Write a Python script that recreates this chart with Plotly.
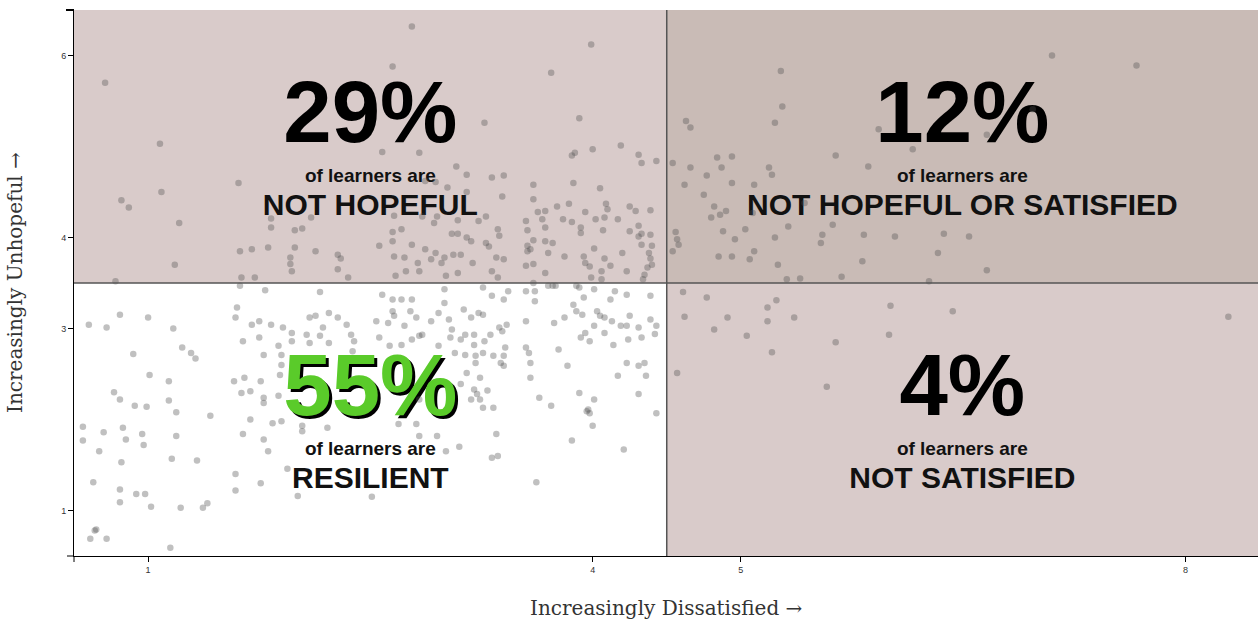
import plotly.graph_objects as go

# ---- data: (dissatisfaction, unhopefulness) per learner ----
dissatisfied = [
    0.71, 1.08, 1.09, 0.82, 0.87, 1.21, 1.18, 0.78,
    2.78, 2.65, 3.72, 3.99, 3.27, 3.91,
    1.61, 2.58, 2.83, 2.87, 2.94, 1.83, 1.83, 2.10, 1.99, 2.04, 2.66, 2.65, 2.71, 2.85, 2.93, 2.95,
    1.62, 1.70, 1.81, 1.99, 1.96, 1.96, 1.97, 2.13, 2.28, 2.30, 2.28, 2.35, 2.56, 2.65, 2.66, 2.73,
    2.78, 2.87, 2.94, 2.82, 2.91, 2.98, 2.83, 2.74, 2.67, 1.63, 1.72,
    4.19, 4.00, 3.88, 3.86, 4.31, 4.33, 4.43, 3.08, 3.15, 3.32, 3.40, 3.02, 3.15, 3.60, 3.87, 4.05,
    3.39, 3.60, 3.84, 4.09, 4.10, 4.25, 4.29, 4.39, 3.76, 3.63, 3.68, 3.95, 3.28, 3.23, 3.09, 3.55,
    3.80, 3.86, 4.02, 4.08, 4.17, 3.66, 4.31, 3.68, 3.56, 3.36, 3.37, 3.92, 3.92, 4.07, 4.25, 4.33,
    4.39, 4.31, 3.05, 3.09, 3.15, 3.18, 3.28, 3.30, 3.60, 3.56, 3.58, 3.56, 3.68, 3.73, 3.70, 3.81,
    4.01, 4.20, 4.33, 4.40, 4.38, 4.39, 4.40, 4.37, 3.94, 3.95, 3.98, 4.08, 4.12, 4.06, 3.55, 3.60,
    3.35, 3.40, 3.19, 3.00, 3.06, 3.11, 3.09, 3.01, 3.32, 3.36, 3.68, 3.99, 4.06, 4.23, 4.35, 4.34,
    3.60, 3.73, 3.89,
    0.60, 0.72, 0.81, 1.00, 1.17, 0.90, 1.23, 1.29, 1.32, 1.01, 1.14, 1.14, 1.19, 0.77, 0.81, 0.91,
    0.99, 1.42, 0.56, 0.56, 0.70, 0.83, 0.85, 0.96, 0.97, 1.19, 0.67, 1.16, 1.33, 0.82, 0.63, 0.81,
    0.81, 0.92, 0.98, 1.02, 1.22, 1.37, 1.40, 0.64, 0.65, 0.61, 0.72, 1.15,
    1.59, 1.59, 1.76, 1.94, 2.01,
    1.62, 1.79, 2.16, 2.58, 2.65, 2.71, 2.78, 1.60, 1.59, 1.70, 1.75, 1.83, 1.91, 1.97, 2.09, 2.13,
    2.22, 2.28, 2.07, 2.16, 2.18, 2.34, 2.37, 2.39, 2.54, 2.62, 2.65, 2.66, 2.73, 2.81, 2.77, 2.85,
    2.91, 2.96, 1.64, 1.75, 1.88, 1.97, 2.09, 2.22, 2.38, 2.56, 2.63, 2.71, 2.78, 2.83, 2.96, 1.90,
    1.90, 1.89, 1.78, 1.58, 1.65, 1.76, 1.63, 1.69, 1.78, 1.78, 1.88, 1.69, 1.84, 1.90, 2.04, 2.21,
    1.64, 1.78, 1.81, 2.04, 2.69, 2.81, 2.83, 2.95, 2.83,
    3.00, 3.00, 3.26, 3.32, 3.40, 3.43, 3.55, 3.61, 3.61, 3.70, 3.75, 3.91, 4.01, 3.94, 4.12, 4.15,
    4.23, 4.39, 3.87, 3.89, 3.93, 4.03, 4.05, 4.08, 4.13, 4.25, 4.39, 4.43, 4.19, 4.23, 4.31, 3.03,
    3.13, 3.18, 3.23, 3.26, 3.31, 3.37, 3.42, 3.39, 3.05, 3.04, 3.11, 3.14, 3.20, 3.20, 3.27, 3.55,
    3.55, 3.57, 3.74, 3.81, 3.95, 4.01, 3.98, 3.92, 4.08, 4.14, 4.24, 4.33, 4.42, 3.07, 3.14, 3.21,
    3.26, 3.33, 3.40, 3.41, 3.38, 3.40, 3.21, 3.15, 3.24, 3.11, 3.58, 3.58, 3.77, 3.83, 4.23, 4.31,
    4.35, 4.17, 4.36, 3.20, 3.22, 3.24, 3.29, 3.26, 3.18, 3.33, 3.64, 3.72, 3.91, 4.01, 3.97, 3.98,
    3.96, 4.31, 4.43, 3.35, 4.00, 3.86, 4.21, 3.10, 3.01, 3.36, 3.32, 2.51, 3.62,
    5.27, 5.28, 5.23, 4.63, 4.66, 5.93, 5.64, 5.86, 6.16, 4.54, 4.66, 4.84, 4.94, 4.87, 4.77, 4.62,
    4.94, 5.09, 5.19, 5.21, 4.75, 4.82, 4.86, 4.80, 4.90, 5.43, 5.08, 5.62, 5.32, 4.88, 5.03, 4.56,
    4.57, 4.58, 4.54, 4.96, 5.23, 5.55, 5.54, 5.83, 6.04, 6.37, 6.54, 6.33, 5.09, 5.06, 4.85, 4.94,
    5.25, 5.82, 5.31, 5.40, 5.68, 6.27,
    4.61, 4.77, 4.62, 4.91, 5.18, 5.24, 5.18, 4.82, 5.04, 5.36, 5.64, 5.21, 6.01, 6.00, 6.43, 4.57, 5.58,
    7.10, 7.67, 6.97, 6.66, 6.66, 8.29,
]
unhopeful = [
    5.70, 5.03, 4.50, 4.41, 4.33, 4.16, 3.70, 3.52,
    6.32, 5.88, 5.81, 6.12, 5.26, 5.31,
    4.60, 4.94, 4.93, 4.62, 4.61, 4.21, 4.11, 4.22, 4.08, 4.10, 4.24, 4.06, 4.09, 4.23, 4.16, 4.23,
    3.85, 3.87, 3.89, 3.89, 3.78, 3.71, 3.63, 3.85, 3.81, 3.77, 3.65, 3.56, 3.91, 3.96, 3.79, 3.78,
    3.92, 3.87, 3.83, 3.72, 3.76, 3.72, 3.63, 3.63, 3.58, 3.56, 3.56,
    5.01, 4.97, 4.93, 4.90, 4.91, 4.82, 4.84, 4.78, 4.69, 4.66, 4.68, 4.55, 4.50, 4.58, 4.60, 4.54,
    4.45, 4.42, 4.37, 4.37, 4.31, 4.34, 4.29, 4.30, 4.34, 4.28, 4.29, 4.28, 4.23, 4.18, 4.19, 4.18,
    4.20, 4.17, 4.20, 4.22, 4.20, 4.20, 4.13, 4.11, 4.08, 4.09, 4.02, 4.11, 4.05, 4.08, 4.07, 4.04,
    4.03, 4.01, 4.04, 4.04, 4.00, 3.96, 3.94, 3.90, 3.97, 3.91, 3.87, 3.85, 3.96, 3.94, 3.83, 3.79,
    3.88, 3.83, 3.92, 3.91, 3.83, 3.77, 3.70, 3.67, 3.79, 3.72, 3.68, 3.77, 3.69, 3.63, 3.69, 3.71,
    3.78, 3.76, 3.72, 3.78, 3.81, 3.81, 3.61, 3.58, 3.63, 3.56, 3.61, 3.56, 3.54, 3.63, 3.59, 3.54,
    3.50, 3.47, 3.47,
    3.04, 3.01, 3.15, 3.12, 3.00, 2.72, 2.79, 2.73, 2.67, 2.49, 2.42, 2.21, 2.08, 2.30, 2.22, 2.15,
    2.14, 2.04, 1.92, 1.77, 1.86, 1.91, 1.78, 1.84, 1.72, 1.82, 1.65, 1.57, 1.55, 1.53, 1.31, 1.23,
    1.09, 1.18, 1.18, 1.04, 1.03, 1.03, 1.08, 0.78, 0.79, 0.69, 0.69, 0.59,
    1.40, 1.22, 1.30, 1.46, 1.16,
    3.47, 3.42, 3.40, 3.37, 3.32, 3.32, 3.32, 3.23, 3.12, 3.04, 3.08, 3.04, 3.01, 2.95, 3.12, 3.14,
    3.17, 3.12, 2.93, 2.92, 3.01, 3.04, 2.93, 2.86, 3.08, 3.06, 3.19, 3.14, 3.03, 3.12, 3.19, 2.93,
    3.08, 3.17, 2.86, 2.90, 2.81, 2.86, 2.84, 2.84, 2.75, 2.90, 2.81, 2.82, 2.88, 2.92, 2.81, 2.71,
    2.60, 2.49, 2.71, 2.42, 2.46, 2.42, 2.29, 2.31, 2.24, 2.18, 2.26, 2.00, 1.96, 1.98, 1.93, 1.91,
    1.84, 1.78, 1.65, 1.87, 1.95, 1.95, 1.82, 1.82, 2.22,
    3.43, 3.28, 3.45, 3.36, 3.32, 3.41, 3.41, 3.41, 3.30, 3.47, 3.47, 3.45, 3.43, 3.34, 3.32, 3.41,
    3.37, 3.36, 3.26, 3.19, 3.15, 3.19, 3.14, 3.12, 3.08, 3.14, 3.10, 3.03, 3.03, 3.03, 3.01, 3.10,
    3.21, 3.12, 3.17, 3.15, 2.93, 3.01, 3.04, 2.97, 2.99, 2.90, 2.88, 2.93, 2.93, 2.82, 2.86, 3.08,
    2.79, 2.73, 3.06, 3.12, 2.95, 3.03, 2.86, 2.90, 2.95, 2.82, 2.88, 2.90, 2.94, 2.73, 2.71, 2.70,
    2.73, 2.70, 2.70, 2.79, 2.62, 2.59, 2.62, 2.51, 2.46, 2.39, 2.62, 2.46, 2.77, 2.59, 2.62, 2.59,
    2.62, 2.48, 2.48, 2.33, 2.28, 2.22, 2.32, 2.13, 2.22, 2.13, 2.24, 2.15, 2.29, 2.22, 2.11, 2.07,
    2.09, 2.28, 2.07, 1.84, 1.93, 1.77, 1.67, 1.70, 1.65, 1.60, 1.58, 1.15, 1.31,
    5.83, 5.44, 5.26, 5.28, 5.21, 5.19, 4.90, 4.78, 4.97, 4.82, 4.77, 4.88, 4.89, 4.77, 4.68, 4.58,
    4.60, 4.58, 4.77, 4.69, 4.47, 4.34, 4.25, 4.22, 4.29, 4.38, 4.27, 4.14, 4.12, 4.07, 4.09, 4.06,
    3.98, 3.92, 3.85, 3.98, 4.00, 4.03, 3.94, 4.03, 4.01, 4.04, 4.01, 3.83, 3.85, 3.76, 3.79, 3.79,
    3.70, 3.74, 3.54, 3.55, 3.57, 3.52,
    3.40, 3.34, 3.13, 3.12, 3.23, 3.31, 3.08, 2.99, 2.92, 3.12, 2.85, 2.74, 3.25, 2.93, 3.19, 2.51, 2.36,
    6.00, 5.89, 5.41, 5.13, 3.64, 3.13,
]

# quadrant labels (order: upper-left, upper-right, lower-left, lower-right)
pct_labels = ["29%", "12%", "55%", "4%"]
quad_names = ["NOT HOPEFUL", "NOT HOPEFUL OR SATISFIED", "RESILIENT", "NOT SATISFIED"]
sub_label = "of learners are"

x_ticks = [1, 4, 5, 8]
y_ticks = [1, 3, 4, 6]
x_split, y_split = 4.5, 3.5
x_range = [0.5, 8.49]
y_range = [0.5, 6.5]

x_title = "Increasingly Dissatisfied →"
y_title = "Increasingly Unhopeful →"

# ---- layout helpers ----
xc = [(x_range[0] + x_split) / 2, (x_split + x_range[1]) / 2]
yc = [(y_split + y_range[1]) / 2, (y_range[0] + y_split) / 2]
qx = [xc[0], xc[1], xc[0], xc[1]]
qy = [yc[0], yc[0], yc[1], yc[1]]

SANS = "Liberation Sans, Arial, Helvetica, sans-serif"
GREEN = "#5acb2a"
PCT_OFF, SUB_OFF, NAME_OFF = 0.285, -0.335, -0.675

fig = go.Figure()

# big percentages (black ones)
fig.add_trace(go.Scatter(
    x=[qx[i] for i in (0, 1, 3)], y=[qy[i] + PCT_OFF for i in (0, 1, 3)],
    text=[pct_labels[i] for i in (0, 1, 3)], mode="text", hoverinfo="skip",
    textposition="middle center",
    textfont=dict(family=SANS, size=87, color="#000", weight="bold"),
    showlegend=False))
# green 55% with black drop shadow
fig.add_trace(go.Scatter(
    x=[qx[2]], y=[qy[2] + PCT_OFF], text=[pct_labels[2]], mode="text", hoverinfo="skip",
    textposition="middle center",
    textfont=dict(family=SANS, size=87, color=GREEN, weight="bold",
                  shadow="3px 3px 0px #000"),
    showlegend=False))
# "of learners are"
fig.add_trace(go.Scatter(
    x=qx, y=[v + SUB_OFF for v in qy], text=[sub_label] * 4, mode="text", hoverinfo="skip",
    textposition="middle center",
    textfont=dict(family=SANS, size=19, color="#111", weight="bold"),
    showlegend=False))
# quadrant names
fig.add_trace(go.Scatter(
    x=qx, y=[v + NAME_OFF for v in qy], text=quad_names, mode="text", hoverinfo="skip",
    textposition="middle center",
    textfont=dict(family=SANS, size=30, color="#111", weight="bold"),
    showlegend=False))

# learners
fig.add_trace(go.Scatter(
    x=dissatisfied, y=unhopeful, mode="markers",
    marker=dict(size=6.5, color="rgba(80,80,80,0.36)", line=dict(width=0)),
    showlegend=False, hoverinfo="x+y"))

# quadrant backgrounds
bg_ul = "#d9cbca"
bg_ur = "#c9bbb6"
bg_lr = "#d9cbca"
shapes = [
    dict(type="rect", xref="x", yref="y", x0=x_range[0], x1=x_split, y0=y_split, y1=y_range[1],
         fillcolor=bg_ul, line=dict(width=0), layer="below"),
    dict(type="rect", xref="x", yref="y", x0=x_split, x1=x_range[1], y0=y_split, y1=y_range[1],
         fillcolor=bg_ur, line=dict(width=0), layer="below"),
    dict(type="rect", xref="x", yref="y", x0=x_split, x1=x_range[1], y0=y_range[0], y1=y_split,
         fillcolor=bg_lr, line=dict(width=0), layer="below"),
    dict(type="line", xref="x", yref="y", x0=x_split, x1=x_split, y0=y_range[0], y1=y_range[1],
         line=dict(color="#555", width=1.5)),
    dict(type="line", xref="x", yref="y", x0=x_range[0], x1=x_range[1], y0=y_split, y1=y_split,
         line=dict(color="#555", width=1.5)),
    # outer ticks at axis ends (d3 style)
    dict(type="line", xref="paper", yref="paper", xsizemode="pixel", xanchor=0,
         x0=-8, x1=0, y0=1, y1=1, line=dict(color="#000", width=2)),
    dict(type="line", xref="paper", yref="paper", xsizemode="pixel", xanchor=0,
         x0=-7, x1=0, y0=0, y1=0, line=dict(color="#000", width=1)),
    dict(type="line", xref="paper", yref="paper", ysizemode="pixel", yanchor=0,
         x0=0, x1=0, y0=-6, y1=0, line=dict(color="#000", width=1)),
]

TICKFONT = dict(family="Liberation Sans Narrow, Arial Narrow, Liberation Sans", size=9, color="#333")

fig.update_layout(
    width=1258, height=622,
    margin=dict(l=74, r=0, t=10, b=66),
    paper_bgcolor="white", plot_bgcolor="white",
    shapes=shapes,
    xaxis=dict(range=x_range, tickvals=x_ticks, ticktext=[str(v) for v in x_ticks],
               showgrid=False, zeroline=False, showline=True, linecolor="#000", linewidth=1,
               ticks="outside", ticklen=5, tickcolor="#000", tickfont=TICKFONT),
    yaxis=dict(range=y_range, tickvals=y_ticks, ticktext=[str(v) for v in y_ticks],
               showgrid=False, zeroline=False, showline=True, linecolor="#000", linewidth=1,
               ticks="outside", ticklen=5, tickcolor="#000", tickfont=TICKFONT),
    annotations=[
        dict(text=x_title, xref="paper", yref="paper", x=0.5, y=0, xanchor="center", yanchor="top",
             yshift=-38, showarrow=False,
             font=dict(family="DejaVu Serif, serif", size=20, color="#333")),
        dict(text=y_title, xref="paper", yref="paper", x=0, y=0.5, xanchor="center", yanchor="middle",
             xshift=-59, textangle=-90, showarrow=False,
             font=dict(family="DejaVu Serif, serif", size=20, color="#333")),
    ],
)

fig.write_html(
    "out.html",
    config={"displayModeBar": False},
    post_script="document.body.style.margin='0';document.body.style.overflow='hidden';",
)
